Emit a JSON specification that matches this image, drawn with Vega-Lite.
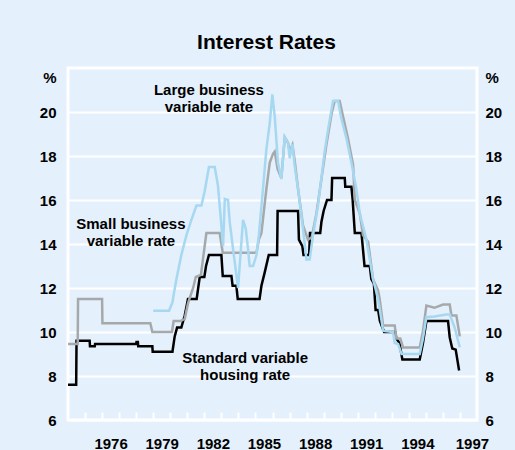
{
  "$schema": "https://vega.github.io/schema/vega-lite/v6.json",
  "width": 409,
  "height": 352,
  "autosize": {"type": "none"},
  "padding": {"left": 68, "top": 68, "right": 38, "bottom": 30},
  "background": "#E4F0FB",
  "config": {
    "view": {"stroke": "#FFFFFF", "strokeWidth": 3},
    "font": "Liberation Sans",
    "axis": {"labelFont": "Liberation Sans", "labelFontSize": 15, "labelFontWeight": "bold", "labelColor": "black", "title": null, "domain": false, "labelOverlap": false}
  },
  "title": {"text": "Interest Rates", "fontSize": 21, "fontWeight": "bold", "color": "black", "anchor": "middle", "offset": -2, "dx": -6, "baseline": "alphabetic", "font": "Liberation Sans"},
  "datasets": {
    "housing": [
      {"year": 1974.0, "rate": 7.6}, {"year": 1974.48, "rate": 7.6}, {"year": 1974.5, "rate": 9.6},
      {"year": 1975.27, "rate": 9.6}, {"year": 1975.29, "rate": 9.35}, {"year": 1975.57, "rate": 9.35},
      {"year": 1975.59, "rate": 9.45}, {"year": 1978.0, "rate": 9.45}, {"year": 1978.02, "rate": 9.55},
      {"year": 1978.1, "rate": 9.55}, {"year": 1978.12, "rate": 9.35}, {"year": 1978.95, "rate": 9.35},
      {"year": 1978.97, "rate": 9.1}, {"year": 1980.13, "rate": 9.1}, {"year": 1980.26, "rate": 9.8},
      {"year": 1980.4, "rate": 10.2}, {"year": 1980.65, "rate": 10.2}, {"year": 1980.85, "rate": 10.75},
      {"year": 1981.04, "rate": 11.5}, {"year": 1981.55, "rate": 11.5}, {"year": 1981.63, "rate": 11.95},
      {"year": 1981.73, "rate": 12.5}, {"year": 1982.0, "rate": 12.5}, {"year": 1982.1, "rate": 13.0},
      {"year": 1982.27, "rate": 13.5}, {"year": 1983.0, "rate": 13.5}, {"year": 1983.08, "rate": 12.55},
      {"year": 1983.59, "rate": 12.55}, {"year": 1983.66, "rate": 12.1}, {"year": 1983.88, "rate": 12.1},
      {"year": 1983.96, "rate": 11.5}, {"year": 1985.24, "rate": 11.5}, {"year": 1985.35, "rate": 12.1},
      {"year": 1985.54, "rate": 12.7}, {"year": 1985.78, "rate": 13.5}, {"year": 1986.27, "rate": 13.5},
      {"year": 1986.3, "rate": 15.5}, {"year": 1987.5, "rate": 15.5}, {"year": 1987.55, "rate": 14.2},
      {"year": 1987.75, "rate": 13.9}, {"year": 1987.82, "rate": 13.5}, {"year": 1988.15, "rate": 13.5},
      {"year": 1988.2, "rate": 14.5}, {"year": 1988.8, "rate": 14.5}, {"year": 1988.87, "rate": 15.0},
      {"year": 1989.0, "rate": 15.5}, {"year": 1989.2, "rate": 16.0}, {"year": 1989.46, "rate": 16.0},
      {"year": 1989.5, "rate": 17.0}, {"year": 1990.24, "rate": 17.0}, {"year": 1990.27, "rate": 16.6},
      {"year": 1990.63, "rate": 16.6}, {"year": 1990.7, "rate": 16.05}, {"year": 1990.83, "rate": 14.5},
      {"year": 1991.22, "rate": 14.5}, {"year": 1991.4, "rate": 13.0}, {"year": 1991.71, "rate": 13.0},
      {"year": 1991.8, "rate": 12.4}, {"year": 1991.95, "rate": 12.2}, {"year": 1992.05, "rate": 11.0},
      {"year": 1992.2, "rate": 11.0}, {"year": 1992.3, "rate": 10.5}, {"year": 1992.55, "rate": 10.0},
      {"year": 1993.2, "rate": 10.0}, {"year": 1993.27, "rate": 9.7}, {"year": 1993.45, "rate": 9.5},
      {"year": 1993.62, "rate": 8.75}, {"year": 1994.64, "rate": 8.75}, {"year": 1994.83, "rate": 9.5},
      {"year": 1995.03, "rate": 10.5}, {"year": 1996.3, "rate": 10.5}, {"year": 1996.4, "rate": 9.75},
      {"year": 1996.55, "rate": 9.25}, {"year": 1996.75, "rate": 9.2}, {"year": 1996.95, "rate": 8.25}
    ],
    "small": [
      {"year": 1974.0, "rate": 9.45}, {"year": 1974.57, "rate": 9.45}, {"year": 1974.59, "rate": 11.5},
      {"year": 1976.0, "rate": 11.5}, {"year": 1976.02, "rate": 10.4}, {"year": 1978.83, "rate": 10.4},
      {"year": 1978.95, "rate": 10.0}, {"year": 1980.1, "rate": 10.0}, {"year": 1980.2, "rate": 10.5},
      {"year": 1980.6, "rate": 10.5}, {"year": 1980.85, "rate": 10.6}, {"year": 1981.04, "rate": 11.3},
      {"year": 1981.34, "rate": 12.0}, {"year": 1981.5, "rate": 12.5}, {"year": 1981.8, "rate": 12.6},
      {"year": 1982.12, "rate": 14.5}, {"year": 1982.9, "rate": 14.5}, {"year": 1983.08, "rate": 13.6},
      {"year": 1985.06, "rate": 13.6}, {"year": 1985.2, "rate": 14.2}, {"year": 1985.35, "rate": 14.5},
      {"year": 1985.64, "rate": 16.5}, {"year": 1985.84, "rate": 17.7}, {"year": 1986.03, "rate": 18.1},
      {"year": 1986.13, "rate": 18.2}, {"year": 1986.3, "rate": 17.4}, {"year": 1986.52, "rate": 17.0},
      {"year": 1986.72, "rate": 18.85}, {"year": 1986.91, "rate": 18.6}, {"year": 1987.01, "rate": 18.2},
      {"year": 1987.17, "rate": 18.5}, {"year": 1987.3, "rate": 17.8}, {"year": 1987.5, "rate": 16.5},
      {"year": 1987.79, "rate": 14.85}, {"year": 1988.08, "rate": 14.2}, {"year": 1988.3, "rate": 14.3},
      {"year": 1988.58, "rate": 15.4}, {"year": 1988.87, "rate": 16.95}, {"year": 1989.16, "rate": 18.5},
      {"year": 1989.46, "rate": 19.9}, {"year": 1989.65, "rate": 20.5}, {"year": 1989.94, "rate": 20.5},
      {"year": 1990.14, "rate": 19.8}, {"year": 1990.43, "rate": 18.8}, {"year": 1990.73, "rate": 17.6},
      {"year": 1990.83, "rate": 16.0}, {"year": 1991.12, "rate": 15.4}, {"year": 1991.31, "rate": 14.4},
      {"year": 1991.61, "rate": 14.1}, {"year": 1991.9, "rate": 12.4}, {"year": 1992.19, "rate": 11.9},
      {"year": 1992.29, "rate": 11.5}, {"year": 1992.49, "rate": 10.3}, {"year": 1993.17, "rate": 10.3},
      {"year": 1993.27, "rate": 9.7}, {"year": 1993.5, "rate": 9.7}, {"year": 1993.66, "rate": 9.3},
      {"year": 1994.64, "rate": 9.3}, {"year": 1994.83, "rate": 10.05}, {"year": 1995.03, "rate": 11.2},
      {"year": 1995.5, "rate": 11.1}, {"year": 1996.01, "rate": 11.25}, {"year": 1996.4, "rate": 11.25},
      {"year": 1996.5, "rate": 10.75}, {"year": 1996.79, "rate": 10.75}, {"year": 1996.99, "rate": 9.8}
    ],
    "large": [
      {"year": 1979.0, "rate": 10.97}, {"year": 1979.93, "rate": 10.97}, {"year": 1980.13, "rate": 11.35},
      {"year": 1980.19, "rate": 11.65}, {"year": 1980.36, "rate": 12.4}, {"year": 1980.65, "rate": 13.5},
      {"year": 1980.95, "rate": 14.4}, {"year": 1981.24, "rate": 15.1}, {"year": 1981.54, "rate": 15.75},
      {"year": 1981.83, "rate": 15.75}, {"year": 1982.02, "rate": 16.4}, {"year": 1982.27, "rate": 17.5},
      {"year": 1982.61, "rate": 17.5}, {"year": 1982.8, "rate": 16.65}, {"year": 1982.95, "rate": 15.3},
      {"year": 1983.1, "rate": 13.9}, {"year": 1983.2, "rate": 16.05}, {"year": 1983.39, "rate": 16.0},
      {"year": 1983.49, "rate": 15.0}, {"year": 1983.68, "rate": 13.8}, {"year": 1983.98, "rate": 12.0},
      {"year": 1984.27, "rate": 15.1}, {"year": 1984.43, "rate": 14.7}, {"year": 1984.56, "rate": 13.8},
      {"year": 1984.66, "rate": 13.0}, {"year": 1984.86, "rate": 13.0}, {"year": 1985.06, "rate": 13.5},
      {"year": 1985.2, "rate": 14.4}, {"year": 1985.44, "rate": 16.5}, {"year": 1985.64, "rate": 18.3},
      {"year": 1985.84, "rate": 19.5}, {"year": 1985.99, "rate": 20.8}, {"year": 1986.13, "rate": 19.8},
      {"year": 1986.32, "rate": 17.7}, {"year": 1986.52, "rate": 16.95}, {"year": 1986.72, "rate": 18.85},
      {"year": 1986.91, "rate": 18.6}, {"year": 1987.01, "rate": 17.9}, {"year": 1987.17, "rate": 18.55},
      {"year": 1987.3, "rate": 17.55}, {"year": 1987.5, "rate": 16.5}, {"year": 1987.79, "rate": 14.7},
      {"year": 1987.99, "rate": 13.3}, {"year": 1988.18, "rate": 13.3}, {"year": 1988.38, "rate": 14.4},
      {"year": 1988.67, "rate": 15.75}, {"year": 1989.06, "rate": 18.2}, {"year": 1989.26, "rate": 19.2},
      {"year": 1989.55, "rate": 20.5}, {"year": 1989.85, "rate": 20.5}, {"year": 1990.04, "rate": 19.7},
      {"year": 1990.34, "rate": 18.8}, {"year": 1990.63, "rate": 17.7}, {"year": 1990.92, "rate": 16.5},
      {"year": 1991.12, "rate": 15.4}, {"year": 1991.51, "rate": 14.2}, {"year": 1991.9, "rate": 12.4},
      {"year": 1992.1, "rate": 11.8}, {"year": 1992.19, "rate": 11.5}, {"year": 1992.29, "rate": 11.05},
      {"year": 1992.49, "rate": 10.05}, {"year": 1993.07, "rate": 10.0}, {"year": 1993.17, "rate": 9.5},
      {"year": 1993.37, "rate": 9.45}, {"year": 1993.57, "rate": 9.0}, {"year": 1994.64, "rate": 9.0},
      {"year": 1994.83, "rate": 9.7}, {"year": 1995.03, "rate": 10.67}, {"year": 1995.5, "rate": 10.7},
      {"year": 1996.2, "rate": 10.8}, {"year": 1996.4, "rate": 10.8}, {"year": 1996.69, "rate": 10.2},
      {"year": 1996.99, "rate": 9.3}
    ],
    "labels": [
      {"year": 1982.27, "rate": 21.0, "label": "Large business\nvariable rate"},
      {"year": 1977.69, "rate": 14.93, "label": "Small business\nvariable rate"},
      {"year": 1984.39, "rate": 8.84, "label": "Standard variable\nhousing rate"}
    ]
  },
  "resolve": {"axis": {"y": "independent"}},
  "layer": [
    {
      "data": {"name": "housing"},
      "mark": {"type": "line", "color": "black", "strokeWidth": 2.5},
      "encoding": {
        "x": {
          "field": "year", "type": "quantitative",
          "scale": {"domain": [1974, 1998], "nice": false, "zero": false},
          "axis": {
            "values": [1975, 1976, 1977, 1978, 1979, 1980, 1981, 1982, 1983, 1984, 1985, 1986, 1987, 1988, 1989, 1990, 1991, 1992, 1993, 1994, 1995, 1996, 1997],
            "tickCount": 40,
            "format": "d",
            "labelExpr": "datum.value >= 1976 && (datum.value - 1976) % 3 == 0 ? datum.label : ''",
            "labelOverlap": false,
            "ticks": true,
            "tickSize": -8, "tickColor": "#FFFFFF", "tickWidth": 2,
            "grid": false, "labelFlush": false,
            "labelOffset": {"condition": {"test": "datum.value == 1997", "value": 12}, "value": 8.5},
            "labelPadding": 24
          }
        },
        "y": {
          "field": "rate", "type": "quantitative",
          "scale": {"domain": [6, 22], "nice": false, "zero": false},
          "axis": {
            "orient": "left",
            "values": [6, 8, 10, 12, 14, 16, 18, 20, 21.55],
            "tickCount": 20,
            "labelExpr": "datum.value > 21 ? '%' : datum.label",
            "labelOverlap": false,
            "ticks": false, "grid": true,
            "gridColor": {"condition": {"test": "datum.value > 21", "value": "transparent"}, "value": "#FFFFFF"},
            "gridWidth": 2, "gridOpacity": 1,
            "labelPadding": 12
          }
        }
      }
    },
    {
      "data": {"name": "small"},
      "mark": {"type": "line", "color": "#A6A9AC", "strokeWidth": 2.5},
      "encoding": {
        "x": {"field": "year", "type": "quantitative"},
        "y": {"field": "rate", "type": "quantitative", "axis": null}
      }
    },
    {
      "data": {"name": "large"},
      "mark": {"type": "line", "color": "#A6D8F2", "strokeWidth": 2.5},
      "encoding": {
        "x": {"field": "year", "type": "quantitative"},
        "y": {"field": "rate", "type": "quantitative", "axis": null}
      }
    },
    {
      "data": {"name": "labels"},
      "mark": {"type": "text", "align": "center", "baseline": "middle", "fontSize": 15, "fontWeight": "bold", "lineBreak": "\n", "lineHeight": 17, "color": "black", "font": "Liberation Sans"},
      "encoding": {
        "x": {"field": "year", "type": "quantitative"},
        "y": {"field": "rate", "type": "quantitative", "axis": null},
        "text": {"field": "label"}
      }
    },
    {
      "mark": {"type": "rule", "color": "black", "strokeWidth": 1.5},
      "encoding": {
        "x": {"datum": 1976.66, "type": "quantitative"},
        "y": {"datum": 14.14, "type": "quantitative", "axis": null},
        "y2": {"datum": 11.3}
      }
    },
    {
      "mark": {"type": "point", "shape": "triangle-down", "filled": true, "color": "black", "size": 86, "opacity": 1},
      "encoding": {
        "x": {"datum": 1976.66, "type": "quantitative"},
        "y": {"datum": 11.09, "type": "quantitative", "axis": null}
      }
    },
    {
      "data": {"name": "housing"},
      "mark": {"type": "line", "strokeOpacity": 0},
      "encoding": {
        "x": {"field": "year", "type": "quantitative"},
        "y": {
          "field": "rate", "type": "quantitative",
          "axis": {
            "orient": "right",
            "values": [6, 8, 10, 12, 14, 16, 18, 20, 21.55],
            "tickCount": 20,
            "labelExpr": "datum.value > 21 ? '%' : datum.label",
            "labelOverlap": false,
            "ticks": false, "grid": false,
            "labelPadding": 8
          }
        }
      }
    }
  ]
}
